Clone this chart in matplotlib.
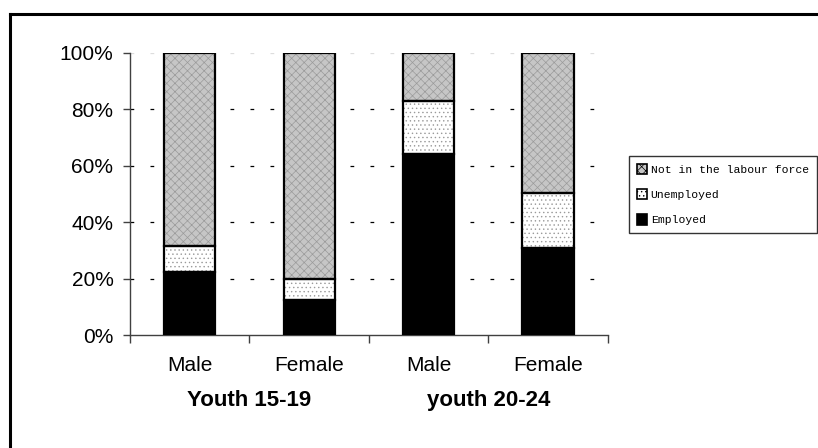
import numpy as np
import matplotlib
matplotlib.use('Agg')
import matplotlib.pyplot as plt
from matplotlib.lines import Line2D
from matplotlib.patches import Patch

sexes = ['Male', 'Female', 'Male', 'Female']
groups = ['Youth 15-19', 'youth 20-24']
employed = [22.4, 12.4, 64.2, 31.0]
unemployed = [9.1, 7.5, 18.9, 19.5]
not_in_lf = [68.5, 80.1, 16.9, 49.5]

plt.rcParams['font.family'] = ['Liberation Sans', 'DejaVu Sans']
plt.rcParams['hatch.linewidth'] = 0.5

fig = plt.figure(figsize=(8.18, 4.48), dpi=100)
ax = fig.add_axes([0.159, 0.252, 0.584, 0.630])

x = np.arange(len(sexes))
w = 0.43
emp = np.array(employed)
une = np.array(unemployed)
nil = np.array(not_in_lf)

nil_face, nil_hatch = '#c6c6c6', '#9a9a9a'
une_hatch = '#9a9a9a'

# fills (hatch drawn in edge colour, so outline is drawn separately)
ax.bar(x, emp, w, color='black', linewidth=0, zorder=3)
ax.bar(x, une, w, bottom=emp, facecolor='white', edgecolor=une_hatch,
       hatch='....', linewidth=0, zorder=3)
ax.bar(x, nil, w, bottom=emp + une, facecolor=nil_face, edgecolor=nil_hatch,
       hatch='xxxx', linewidth=0, zorder=3)
for b, h in [(0, emp), (emp, une), (emp + une, nil)]:
    ax.bar(x, h, w, bottom=b, fill=False, edgecolor='black', linewidth=1.6, zorder=4)

# dashed gridlines
for yv in [20, 40, 60, 80]:
    ax.axhline(yv, color='black', linewidth=0.9, linestyle=(0, (3, 13)), zorder=1)
ax.axhline(100, color='#dddddd', linewidth=0.9, linestyle=(0, (3, 13)), zorder=1)

ax.set_xlim(-0.5, 3.5)
ax.set_ylim(0, 100)
ax.set_yticks([0, 20, 40, 60, 80, 100])
ax.set_yticklabels(['0%', '20%', '40%', '60%', '80%', '100%'], fontsize=15)
ax.set_xticks([-0.5, 0.5, 1.5, 2.5, 3.5])
ax.set_xticklabels([])
ax.tick_params(axis='y', length=5, width=1, color='#404040', pad=7)
ax.tick_params(axis='x', length=6, width=1, color='#404040', direction='out')
for s in ['top', 'right']:
    ax.spines[s].set_visible(False)
for s in ['left', 'bottom']:
    ax.spines[s].set_color('#404040')
    ax.spines[s].set_linewidth(1)

for i, s in enumerate(sexes):
    ax.text(i, -10.6, s, ha='center', va='center', fontsize=15, clip_on=False)
for j, g in enumerate(groups):
    ax.text(2 * j + 0.5, -23, g, ha='center', va='center', fontsize=16,
            fontweight='bold', clip_on=False)

handles = [
    Patch(facecolor=nil_face, edgecolor=nil_hatch, hatch='xxxx', label='Not in the labour force'),
    Patch(facecolor='white', edgecolor=une_hatch, hatch='....', label='Unemployed'),
    Patch(facecolor='black', edgecolor='black', label='Employed'),
]
leg = fig.legend(handles=handles, loc='upper left', bbox_to_anchor=(0.769, 0.652),
                 prop={'family': 'Liberation Mono', 'size': 8.2},
                 frameon=True, fancybox=False, edgecolor='black',
                 handlelength=0.9, handleheight=1.0, handletextpad=0.3,
                 labelspacing=1.25, borderpad=0.7, borderaxespad=0)
leg.get_frame().set_linewidth(1)
for p in leg.get_patches():
    p.set_linewidth(1.2)
    p.set_edgecolor('black')

# outer chart border (top and left edges)
fig.add_artist(Line2D([0.012, 1.0], [1 - 14 / 448, 1 - 14 / 448],
                      transform=fig.transFigure, color='black', linewidth=2.2))
fig.add_artist(Line2D([0.012, 0.012], [0.0, 1 - 14 / 448],
                      transform=fig.transFigure, color='black', linewidth=2.2))

fig.savefig('out.png', dpi=100)
